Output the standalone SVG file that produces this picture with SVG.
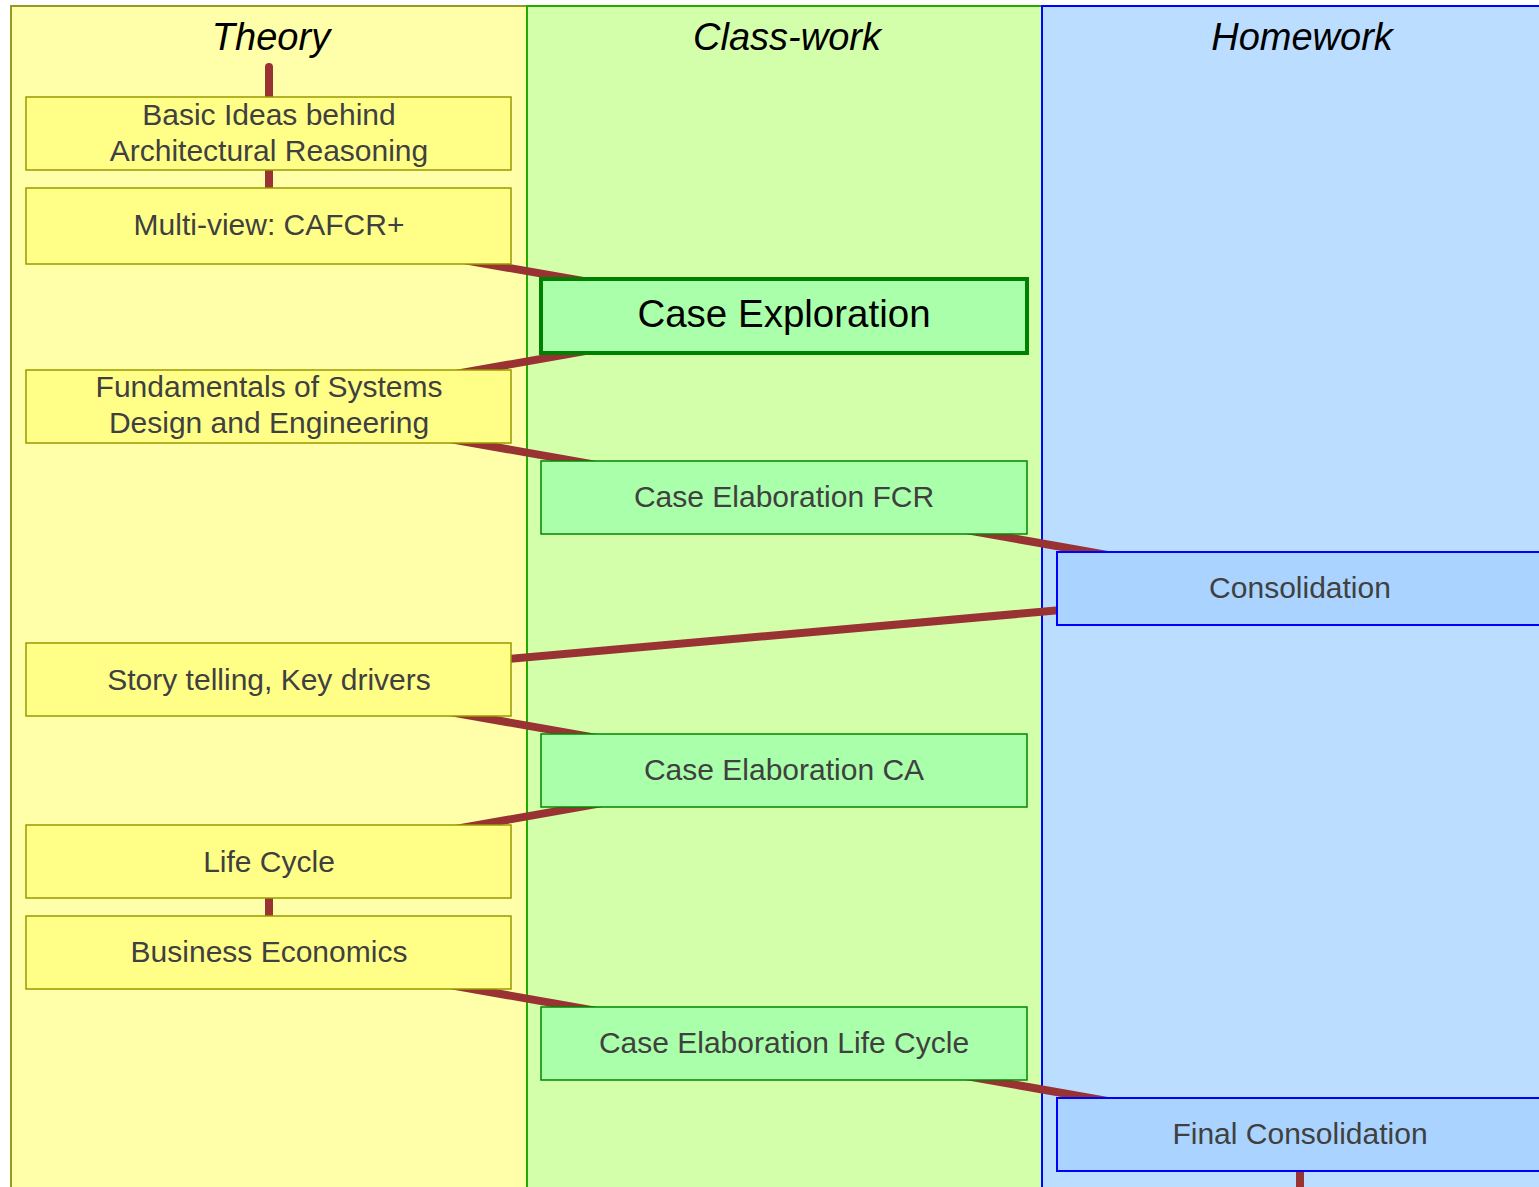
<svg xmlns="http://www.w3.org/2000/svg" width="1539" height="1187" viewBox="0 0 1539 1187">
<style>
.lane-t{fill:#ffffaa;stroke:#999922;stroke-width:2}
.lane-c{fill:#d4ffaa;stroke:#22aa00;stroke-width:2}
.lane-h{fill:#bbddff;stroke:#0000ff;stroke-width:2}
.hdr{font-family:"Liberation Sans",Arial,sans-serif;font-style:italic;font-size:38px;fill:#000;text-anchor:middle}
.bt{fill:#ffff88;stroke:#999900;stroke-width:1.5}
.bc{fill:#aaffaa;stroke:#008800;stroke-width:1.5}
.bce{fill:#aaffaa;stroke:#008000;stroke-width:4}
.bh{fill:#aad4ff;stroke:#0000ff;stroke-width:2}
.txt{font-family:"Liberation Sans",Arial,sans-serif;font-size:30px;fill:#404040;text-anchor:middle}
.big{font-family:"Liberation Sans",Arial,sans-serif;font-size:38.5px;fill:#000;text-anchor:middle}
.con{stroke:#993333;stroke-width:8;fill:none}
</style>
<g id="lanes">
<rect class="lane-t" x="11" y="6" width="516" height="1200"/>
<rect class="lane-c" x="527" y="6" width="515" height="1200"/>
<rect class="lane-h" x="1042" y="6" width="520" height="1200"/>
<text class="hdr" x="271" y="50">Theory</text>
<text class="hdr" x="787" y="50">Class-work</text>
<text class="hdr" x="1302" y="50">Homework</text>
</g>
<g id="connectors">
<line class="con" x1="269" y1="67" x2="269" y2="134" stroke-linecap="round"/>
<line class="con" x1="269" y1="134" x2="269" y2="226"/>
<line class="con" x1="269" y1="226" x2="784" y2="316"/>
<line class="con" x1="784" y1="316" x2="269" y2="407"/>
<line class="con" x1="269" y1="407" x2="784" y2="498"/>
<line class="con" x1="784" y1="498" x2="1300" y2="589"/>
<line class="con" x1="1300" y1="589" x2="269" y2="680"/>
<line class="con" x1="269" y1="680" x2="784" y2="771"/>
<line class="con" x1="784" y1="771" x2="269" y2="862"/>
<line class="con" x1="269" y1="862" x2="269" y2="953"/>
<line class="con" x1="269" y1="953" x2="784" y2="1044"/>
<line class="con" x1="784" y1="1044" x2="1300" y2="1135"/>
<line class="con" x1="1300" y1="1135" x2="1300" y2="1200"/>
</g>
<g id="basic-ideas">
<rect class="bt" x="26" y="97" width="485" height="73"/>
<text class="txt" x="269" y="125">Basic Ideas behind</text>
<text class="txt" x="269" y="161">Architectural Reasoning</text>
</g>
<g id="multi-view">
<rect class="bt" x="26" y="188" width="485" height="76"/>
<text class="txt" x="269" y="235">Multi-view: CAFCR+</text>
</g>
<g id="fundamentals">
<rect class="bt" x="26" y="370" width="485" height="73"/>
<text class="txt" x="269" y="397">Fundamentals of Systems</text>
<text class="txt" x="269" y="433">Design and Engineering</text>
</g>
<g id="story-telling">
<rect class="bt" x="26" y="643" width="485" height="73"/>
<text class="txt" x="269" y="690">Story telling, Key drivers</text>
</g>
<g id="life-cycle">
<rect class="bt" x="26" y="825" width="485" height="73"/>
<text class="txt" x="269" y="872">Life Cycle</text>
</g>
<g id="business-economics">
<rect class="bt" x="26" y="916" width="485" height="73"/>
<text class="txt" x="269" y="962">Business Economics</text>
</g>
<g id="case-exploration">
<rect class="bce" x="541" y="279" width="486" height="74"/>
<text class="big" x="784" y="327">Case Exploration</text>
</g>
<g id="case-elaboration-fcr">
<rect class="bc" x="541" y="461" width="486" height="73"/>
<text class="txt" x="784" y="507">Case Elaboration FCR</text>
</g>
<g id="case-elaboration-ca">
<rect class="bc" x="541" y="734" width="486" height="73"/>
<text class="txt" x="784" y="780">Case Elaboration CA</text>
</g>
<g id="case-elaboration-lc">
<rect class="bc" x="541" y="1007" width="486" height="73"/>
<text class="txt" x="784" y="1053">Case Elaboration Life Cycle</text>
</g>
<g id="consolidation">
<rect class="bh" x="1057" y="552" width="486" height="73"/>
<text class="txt" x="1300" y="598">Consolidation</text>
</g>
<g id="final-consolidation">
<rect class="bh" x="1057" y="1098" width="486" height="73"/>
<text class="txt" x="1300" y="1144">Final Consolidation</text>
</g>
</svg>
